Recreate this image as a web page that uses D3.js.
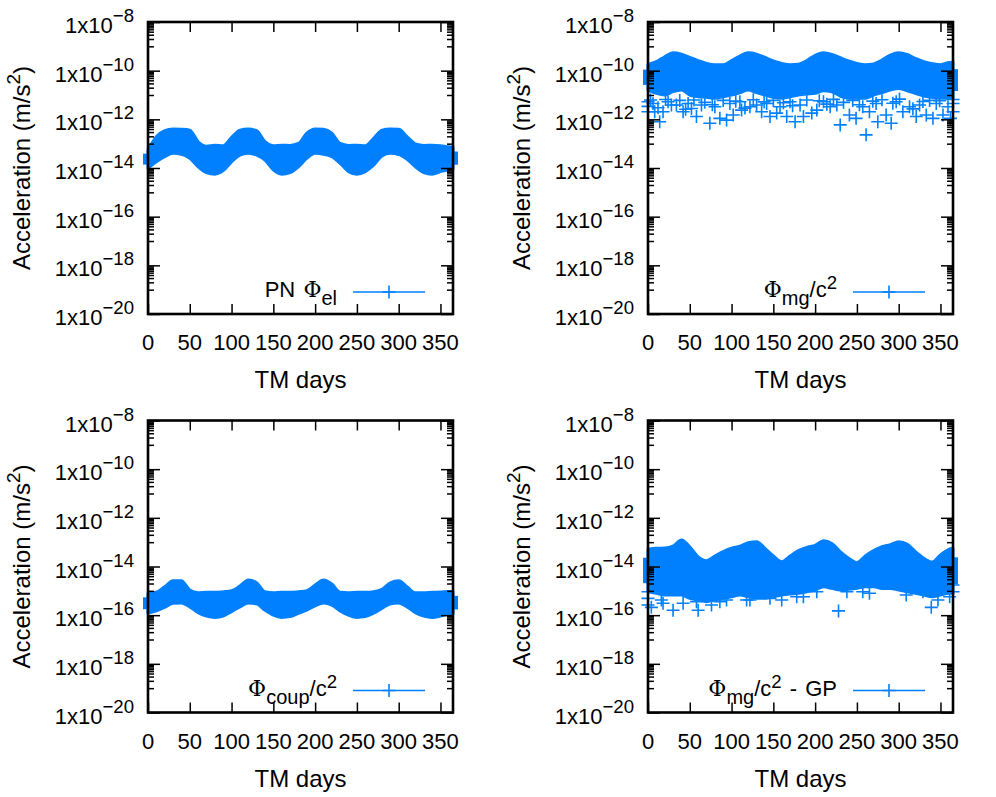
<!DOCTYPE html>
<html>
<head>
<meta charset="utf-8">
<script src="https://cdn.jsdelivr.net/npm/d3@7"></script>
<style>
  body { margin: 0; background: #fff; }
  text { font-family: "Liberation Sans", Arial, sans-serif; fill: #000; }
</style>
</head>
<body>
<div id="svgDiv"></div>
<script>
//sample days for the band envelopes
var days = [0,10,20,30,40,50,60,70,80,90,100,110,120,130,140,150,160,170,180,
            190,200,210,220,230,240,250,260,270,280,290,300,310,320,330,340,350,360,365];

//PN phi_el
var elUpper = [5.5e-14,1.95e-13,3.4e-13,4.0e-13,3.9e-13,3.6e-13,1.2e-13,7.9e-14,8.7e-14,8.3e-14,
               1.8e-13,3.6e-13,4.0e-13,3.4e-13,1.2e-13,8.3e-14,8.7e-14,8.5e-14,1.02e-13,2.7e-13,
               4.0e-13,3.9e-13,2.7e-13,1.02e-13,8.5e-14,8.7e-14,8.3e-14,1.66e-13,3.6e-13,4.0e-13,
               3.9e-13,1.95e-13,9.8e-14,8.5e-14,8.7e-14,8.3e-14,7.4e-14,7.2e-14];
var elLower = [9.8e-15,1.8e-14,2.9e-14,4.0e-14,3.7e-14,2.5e-14,1.12e-14,6.5e-15,5.6e-15,7.8e-15,
               1.8e-14,3.4e-14,4.0e-14,3.4e-14,2.1e-14,8.3e-15,5.6e-15,6.5e-15,1.12e-14,2.5e-14,
               4.0e-14,3.7e-14,2.9e-14,1.55e-14,7.1e-15,5.6e-15,7.1e-15,1.3e-14,3.1e-14,4.0e-14,
               3.6e-14,2.3e-14,1.12e-14,6.5e-15,5.6e-15,7.1e-15,8.3e-15,9.0e-15];

//phi_mg/c^2
var mgUpper = [1.8e-10,2.35e-10,3.75e-10,5.5e-10,4.8e-10,3.5e-10,2.6e-10,2.0e-10,1.76e-10,1.76e-10,
               2.6e-10,4.0e-10,5.5e-10,4.8e-10,3.5e-10,2.5e-10,2.0e-10,1.76e-10,1.83e-10,2.6e-10,
               4.3e-10,5.5e-10,4.7e-10,3.4e-10,2.5e-10,2.0e-10,1.76e-10,1.9e-10,2.75e-10,4.4e-10,
               5.5e-10,4.6e-10,3.2e-10,2.35e-10,1.95e-10,1.76e-10,2.15e-10,2.3e-10];
var mgLower = [1.6e-11,1.17e-11,1.0e-11,1.37e-11,1.6e-11,1.0e-11,8.5e-12,8.0e-12,7.3e-12,8.5e-12,
               1.0e-11,1.25e-11,1.6e-11,1.25e-11,1.0e-11,8.0e-12,7.3e-12,8.5e-12,1.0e-11,1.1e-11,
               1.17e-11,1.5e-11,1.37e-11,9.1e-12,7.3e-12,7.3e-12,7.3e-12,1.0e-11,1.25e-11,1.6e-11,
               1.87e-11,1.5e-11,1.17e-11,9.1e-12,8.0e-12,7.3e-12,7.3e-12,7.3e-12];
var mgOutDays = [14,8,18,42,58,74,86,94,102,122,146,154,166,176,186,202,218,230,241,249,
                 261,275,291,285,305,321,333,341,353,28,52,112,136,196,265,313,0,0,
                 6,24,34,48,64,80,98,110,130,142,158,170,182,210,226,257,273,297,325,345,359,365,365,
                 3,12,21,38,45,55,68,77,90,105,116,126,139,150,162,173,190,205,214,222,234,245,
                 253,269,280,293,301,317,329,337,349,362,0,365];
var mgOutVals = [8.0e-13,2.05e-12,2.05e-12,2.05e-12,1.3e-12,6.9e-13,1.1e-12,9.3e-13,1.5e-12,3.3e-12,
                 1.3e-12,1.8e-12,1.3e-12,8.0e-13,1.3e-12,2.4e-12,3.3e-12,5.9e-13,1.5e-12,1.1e-12,
                 2.3e-13,8.0e-13,6.9e-13,1.5e-12,2.05e-12,1.3e-12,1.5e-12,1.1e-12,1.5e-12,3.9e-12,
                 2.8e-12,2.4e-12,2.05e-12,1.8e-12,2.05e-12,3.3e-12,5.3e-12,2.05e-12,
                 4.5e-12,5.3e-12,3.9e-12,4.5e-12,3.9e-12,3.3e-12,4.5e-12,5.3e-12,3.9e-12,4.5e-12,
                 3.3e-12,5.3e-12,3.9e-12,5.3e-12,3.9e-12,3.3e-12,4.5e-12,5.3e-12,3.9e-12,4.5e-12,
                 3.3e-12,2.05e-12,4.5e-12,
                 6.2e-12,3.0e-12,6.5e-12,6.0e-12,2.6e-12,6.2e-12,5.0e-12,4.0e-12,6.0e-12,5.6e-12,
                 2.9e-12,6.4e-12,5.2e-12,6.0e-12,4.8e-12,3.6e-12,6.2e-12,5.8e-12,4.2e-12,6.6e-12,
                 5.0e-12,6.0e-12,
                 4.0e-12,5.6e-12,6.4e-12,4.6e-12,6.8e-12,2.7e-12,5.4e-12,6.0e-12,5.8e-12,1.1e-12,
                 3.4e-12,6.5e-12];

//phi_coup/c^2
var coupUpper = [7.9e-16,8.7e-16,1.48e-15,2.6e-15,2.6e-15,1.07e-15,8.3e-16,8.7e-16,8.7e-16,9.2e-16,
                 1.0e-15,1.58e-15,2.8e-15,2.15e-15,9.2e-16,8.3e-16,8.7e-16,8.7e-16,9.2e-16,1.0e-15,
                 1.74e-15,2.8e-15,1.9e-15,8.7e-16,8.3e-16,8.7e-16,8.7e-16,9.2e-16,1.15e-15,2.15e-15,
                 2.6e-15,1.48e-15,8.3e-16,8.3e-16,8.7e-16,8.9e-16,9.5e-16,9.5e-16];
var coupLower = [1.2e-16,1.5e-16,2.1e-16,3.1e-16,3.2e-16,2.2e-16,1.26e-16,9.2e-17,8.1e-17,9.2e-17,
                 1.4e-16,2.2e-16,3.2e-16,2.9e-16,1.6e-16,1.0e-16,8.1e-17,8.7e-17,1.2e-16,1.6e-16,
                 2.4e-16,3.2e-16,2.6e-16,1.5e-16,1.0e-16,8.1e-17,8.7e-17,1.2e-16,1.9e-16,2.9e-16,
                 3.2e-16,2.2e-16,1.26e-16,9.2e-17,8.1e-17,9.2e-17,1.12e-16,1.12e-16];

//phi_mg/c^2 - GP
var gpUpper = [5.1e-14,5.6e-14,5.7e-14,6.9e-14,1.23e-13,6.5e-14,2.5e-14,1.74e-14,2.7e-14,4.1e-14,
               5.6e-14,6.9e-14,9.5e-14,1.05e-13,5.6e-14,2.7e-14,1.58e-14,2.7e-14,4.5e-14,6.1e-14,
               7.4e-14,1.15e-13,8.9e-14,4.1e-14,2.2e-14,1.44e-14,2.7e-14,4.5e-14,6.5e-14,7.9e-14,
               1.05e-13,8.4e-14,4.1e-14,2.2e-14,1.53e-14,3.0e-14,5.1e-14,5.6e-14];
var gpLower = [9.2e-16,7.9e-16,6.7e-16,6.7e-16,6.7e-16,4.9e-16,4.2e-16,3.6e-16,4.2e-16,4.9e-16,
               5.7e-16,6.7e-16,5.7e-16,4.9e-16,4.9e-16,5.7e-16,6.7e-16,7.4e-16,7.9e-16,9.2e-16,
               1.08e-15,1.48e-15,1.26e-15,1.08e-15,1.15e-15,1.26e-15,1.48e-15,1.48e-15,1.26e-15,1.26e-15,
               1.08e-15,9.2e-16,7.9e-16,6.7e-16,5.7e-16,6.7e-16,7.9e-16,7.9e-16];
var gpOutDays = [0,0,0,4,16,18,30,42,58,60,76,86,94,118,122,146,160,178,186,202,
                 228,238,257,265,309,329,339,347,361,365,365];
var gpOutVals = [9.2e-16,4.9e-16,2.6e-16,2.1e-16,4.2e-16,3.1e-16,1.6e-16,3.1e-16,3.6e-16,1.6e-16,
                 2.6e-16,3.6e-16,4.2e-16,4.2e-16,4.2e-16,4.9e-16,4.2e-16,5.7e-16,5.7e-16,9.2e-16,
                 1.5e-16,9.2e-16,9.2e-16,7.9e-16,6.7e-16,9.2e-16,2.1e-16,4.2e-16,5.7e-16,1.74e-15,9.2e-16];

//axis ticks
var xTicks = [0,50,100,150,200,250,300,350];
var yTickExps = [-8,-10,-12,-14,-16,-18,-20];

var blue = "#0080ff";
var plotW = 305, plotH = 292;
var svg;

document.addEventListener('DOMContentLoaded', function(){

    svg = d3.select("#svgDiv")
        .append("svg")
        .attr("width", 996)
        .attr("height", 797);

    var panels = [
        {left:148, top:22,    upper:elUpper,   lower:elLower,   outDays:[], outVals:[],
         legend:[["PN ",""],["Φ","phi"],["el","sub"]]},
        {left:648, top:22,    upper:mgUpper,   lower:mgLower,   outDays:mgOutDays, outVals:mgOutVals,
         legend:[["Φ","phi"],["mg","sub"],["/c","back"],["2","sup"]]},
        {left:148, top:420.5, upper:coupUpper, lower:coupLower, outDays:[], outVals:[],
         legend:[["Φ","phi"],["coup","sub"],["/c","back"],["2","sup"]]},
        {left:648, top:420.5, upper:gpUpper,   lower:gpLower,   outDays:gpOutDays, outVals:gpOutVals,
         legend:[["Φ","phi"],["mg","sub"],["/c","back"],["2","sup"],[" - GP","back"]]}
    ];

    panels.forEach(drawPanel);
});

//draws one gnuplot-like panel
function drawPanel(p){

    var g = svg.append("g").attr("transform", "translate(" + p.left + "," + p.top + ")");

    var x = d3.scaleLinear().domain([0, 365]).range([0, plotW]);
    var y = d3.scaleLog().domain([1e-20, 1e-8]).range([plotH, 0]);

    var majorY = yTickExps.map(function(e){ return Math.pow(10, e); });
    var minorY = [];
    yTickExps.forEach(function(e){
        if(e == -8) return;
        for(var k = 1; k <= 9; k++) minorY.push(k * Math.pow(10, e + 1));
    });

    //band of dense points
    var band = days.map(function(d, i){ return {day:d, hi:p.upper[i], lo:p.lower[i]}; });
    var area = d3.area()
        .x(function(d){ return x(d.day); })
        .y0(function(d){ return y(d.lo); })
        .y1(function(d){ return y(d.hi); })
        .curve(d3.curveMonotoneX);

    g.append("path")
        .datum(band)
        .attr("d", area)
        .attr("fill", blue)
        .attr("stroke", blue)
        .attr("stroke-width", 3)
        .attr("stroke-linejoin", "round");

    //the first and last samples spill over the frame like the markers do
    [band[0], band[band.length - 1]].forEach(function(d){
        var h = y(d.lo) - y(d.hi);
        g.append("rect")
            .attr("x", x(d.day) - 5)
            .attr("y", y(d.hi) + h * 0.2)
            .attr("width", 10)
            .attr("height", h * 0.6)
            .attr("fill", blue);
    });

    //scattered + points
    var outs = p.outDays.map(function(d, i){ return {day:d, v:p.outVals[i]}; });
    g.selectAll(".pt")
        .data(outs)
        .enter().append("path")
        .attr("class", "pt")
        .attr("transform", function(d){ return "translate(" + x(d.day) + "," + y(d.v) + ")"; })
        .attr("d", "M-6.5,0H6.5M0,-6.5V6.5")
        .attr("stroke", blue)
        .attr("stroke-width", 1.6)
        .attr("fill", "none");

    //axes: ticks on all four sides pointing inward
    var axes = [
        {ax:d3.axisLeft(y).tickValues(majorY).tickSize(-12), tr:"translate(0,0)"},
        {ax:d3.axisLeft(y).tickValues(minorY).tickSize(-6), tr:"translate(0,0)"},
        {ax:d3.axisRight(y).tickValues(majorY).tickSize(-12), tr:"translate(" + plotW + ",0)"},
        {ax:d3.axisRight(y).tickValues(minorY).tickSize(-6), tr:"translate(" + plotW + ",0)"},
        {ax:d3.axisBottom(x).tickValues(xTicks).tickSize(-10), tr:"translate(0," + plotH + ")"},
        {ax:d3.axisTop(x).tickValues(xTicks).tickSize(-10), tr:"translate(0,0)"}
    ];
    axes.forEach(function(a){
        var ag = g.append("g").attr("transform", a.tr)
            .call(a.ax.tickFormat(""));
        ag.select(".domain").remove();
        ag.selectAll("line").attr("stroke", "#000").attr("stroke-width", 1.5);
    });

    //border
    g.append("rect")
        .attr("width", plotW)
        .attr("height", plotH)
        .attr("fill", "none")
        .attr("stroke", "#000")
        .attr("stroke-width", 2.6);

    //y tick labels 1x10^e
    yTickExps.forEach(function(e){
        var t = g.append("text")
            .attr("x", -14)
            .attr("y", y(Math.pow(10, e)) + 11)
            .attr("text-anchor", "end")
            .style("font-size", "22px");
        t.append("tspan").text("1x10");
        t.append("tspan").attr("dy", -11).style("font-size", "18.6px")
            .text("\u2212" + Math.abs(e));
    });

    //x tick labels
    g.selectAll(".xl")
        .data(xTicks)
        .enter().append("text")
        .attr("class", "xl")
        .attr("x", function(d){ return x(d); })
        .attr("y", plotH + 36)
        .attr("text-anchor", "middle")
        .style("font-size", "22px")
        .text(function(d){ return d; });

    //axis titles
    g.append("text")
        .attr("x", plotW / 2)
        .attr("y", plotH + 74)
        .attr("text-anchor", "middle")
        .style("font-size", "24px")
        .text("TM days");

    var yt = g.append("text")
        .attr("transform", "translate(-118," + (plotH / 2) + ") rotate(-90)")
        .attr("text-anchor", "middle")
        .style("font-size", "24px");
    yt.append("tspan").text("Acceleration (m/s");
    yt.append("tspan").attr("dy", -10).style("font-size", "19px").text("2");
    yt.append("tspan").attr("dy", 10).text(")");

    //legend
    var ly = plotH - 22;
    var lx0 = plotW - 100, lx1 = plotW - 28;
    g.append("line")
        .attr("x1", lx0).attr("x2", lx1)
        .attr("y1", ly).attr("y2", ly)
        .attr("stroke", blue).attr("stroke-width", 1.6);
    g.append("path")
        .attr("transform", "translate(" + ((lx0 + lx1) / 2) + "," + ly + ")")
        .attr("d", "M-6.5,0H6.5M0,-6.5V6.5")
        .attr("stroke", blue).attr("stroke-width", 1.6);

    var lt = g.append("text")
        .attr("x", lx0 - 16)
        .attr("y", ly + 5)
        .attr("text-anchor", "end")
        .style("font-size", "22px")
        .style("word-spacing", "2px");
    var shift = 0;
    p.legend.forEach(function(part){
        var s = lt.append("tspan").text(part[0]);
        if(part[1] == "phi"){
            s.style("font-family", "'DejaVu Serif', 'Liberation Serif', serif");
        }
        else if(part[1] == "sub"){
            s.attr("dy", 8 - shift).style("font-size", "20px");
            shift = 8;
        }
        else if(part[1] == "sup"){
            s.attr("dy", -8 - shift).style("font-size", "18.6px");
            shift = -8;
        }
        else if(part[1] == "back"){
            s.attr("dy", -shift);
            shift = 0;
        }
    });
}
</script>
</body>
</html>
